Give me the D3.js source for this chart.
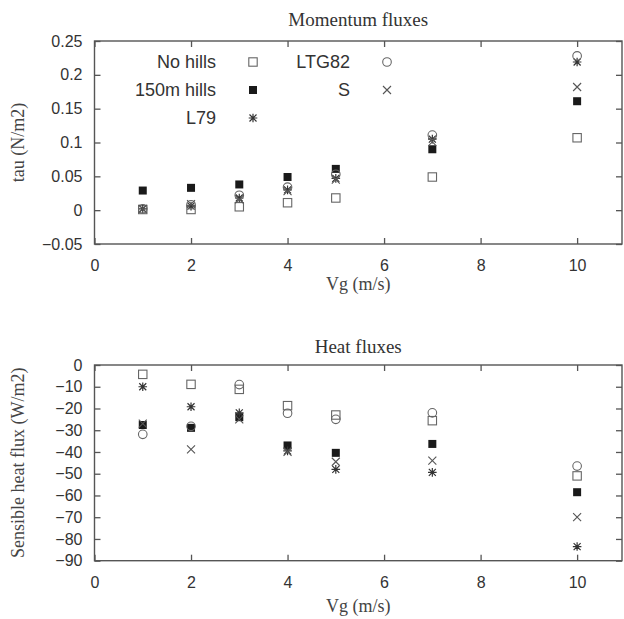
<!DOCTYPE html>
<html><head><meta charset="utf-8">
<script src="https://cdn.jsdelivr.net/npm/d3@7"></script>
<style>html,body{margin:0;padding:0;background:#fff;}svg{display:block;}</style>
</head><body>
<svg id="chart" width="624" height="619"></svg>
<script>
// ---- data ----
const vg = [1, 2, 3, 4, 5, 7, 10];
const seriesNames = ["No hills", "150m hills", "L79", "LTG82", "S"];
const seriesSymbols = ["openSquare", "filledSquare", "asterisk", "circle", "cross"];

const tauNoHills   = [0.001, 0.001, 0.005, 0.011, 0.018, 0.049, 0.107];
const tauHills     = [0.029, 0.033, 0.038, 0.049, 0.061, 0.090, 0.161];
const tauL79       = [0.002, 0.006, 0.018, 0.030, 0.047, 0.105, 0.219];
const tauLTG82     = [0.002, 0.008, 0.022, 0.034, 0.053, 0.111, 0.228];
const tauS         = [0.002, 0.009, 0.016, 0.028, 0.045, 0.101, 0.182];

const heatNoHills  = [-4.3, -8.9, -11.2, -18.7, -23.0, -25.6, -51.0];
const heatHills    = [-27.6, -28.9, -24.0, -37.0, -40.4, -36.3, -58.5];
const heatL79      = [-10.0, -19.2, -22.0, -39.5, -48.0, -49.4, -83.5];
const heatLTG82    = [-31.9, -28.2, -9.0, -22.2, -25.0, -22.0, -46.5];
const heatS        = [-27.0, -38.8, -25.0, -39.9, -44.5, -44.0, -70.0];

const xTicks = [0, 2, 4, 6, 8, 10];
const tauTicks = [-0.05, 0, 0.05, 0.1, 0.15, 0.2, 0.25];
const heatTicks = [-90, -80, -70, -60, -50, -40, -30, -20, -10, 0];

// ---- layout ----
const svg = d3.select("#chart");
const frameColor = "#555";
const textColor = "#333";

function drawSymbol(g, type, cx, cy) {
  const s = 4.2;
  if (type === "openSquare") {
    g.append("rect").attr("x", cx - s).attr("y", cy - s).attr("width", 2*s).attr("height", 2*s)
      .attr("fill", "none").attr("stroke", "#666").attr("stroke-width", 1.1);
  } else if (type === "filledSquare") {
    g.append("rect").attr("x", cx - 4).attr("y", cy - 4).attr("width", 8).attr("height", 8)
      .attr("fill", "#1a1a1a");
  } else if (type === "circle") {
    g.append("circle").attr("cx", cx).attr("cy", cy).attr("r", 4.3)
      .attr("fill", "none").attr("stroke", "#666").attr("stroke-width", 1.1);
  } else if (type === "cross") {
    const c = 4;
    g.append("path").attr("d", `M${cx-c},${cy-c}L${cx+c},${cy+c}M${cx-c},${cy+c}L${cx+c},${cy-c}`)
      .attr("stroke", "#555").attr("stroke-width", 1.1);
  } else if (type === "asterisk") {
    const c = 3.5, p = 4.3;
    g.append("path").attr("d", `M${cx-c},${cy-c}L${cx+c},${cy+c}M${cx-c},${cy+c}L${cx+c},${cy-c}M${cx-p},${cy}L${cx+p},${cy}M${cx},${cy-p}L${cx},${cy+p}`)
      .attr("stroke", "#333").attr("stroke-width", 1.2);
  }
}

function panel(opts) {
  const { top, bottom, yDomain, yTicks, yFmt, series, title, titleY, yLabel, xLabelY } = opts;
  const left = 94.5, right = 622;
  const x = d3.scaleLinear().domain([0, 10.93]).range([left, right]);
  const y = d3.scaleLinear().domain(yDomain).range([bottom, top]);
  const g = svg.append("g");

  // frame
  g.append("rect").attr("x", left).attr("y", top).attr("width", right - left).attr("height", bottom - top)
    .attr("fill", "none").attr("stroke", frameColor).attr("stroke-width", 1.4);

  // axes with inward ticks
  const tl = 6;
  const xb = g.append("g").attr("transform", `translate(0,${bottom})`)
    .call(d3.axisBottom(x).tickValues(xTicks).tickSize(-tl).tickPadding(tl + 10).tickFormat(d3.format("d")));
  const xt = g.append("g").attr("transform", `translate(0,${top})`)
    .call(d3.axisTop(x).tickValues(xTicks).tickSize(-tl).tickFormat(""));
  const yl = g.append("g").attr("transform", `translate(${left},0)`)
    .call(d3.axisLeft(y).tickValues(yTicks).tickSize(-tl).tickPadding(tl + 6).tickFormat(yFmt));
  const yr = g.append("g").attr("transform", `translate(${right},0)`)
    .call(d3.axisRight(y).tickValues(yTicks).tickSize(-tl).tickFormat(""));
  [xb, xt, yl, yr].forEach(a => {
    a.select(".domain").remove();
    a.selectAll(".tick line").attr("stroke", frameColor).attr("stroke-width", 1.3);
    a.selectAll(".tick text").attr("fill", textColor).attr("font-family", "'Liberation Sans', Arial, sans-serif").attr("font-size", 16);
  });

  // title and labels
  g.append("text").attr("x", (left + right) / 2).attr("y", titleY).attr("text-anchor", "middle")
    .attr("font-family", "'Liberation Serif', 'Times New Roman', serif").attr("font-size", 19).attr("fill", "#333").text(title);
  g.append("text").attr("x", (left + right) / 2).attr("y", xLabelY).attr("text-anchor", "middle")
    .attr("font-family", "'Liberation Serif', 'Times New Roman', serif").attr("font-size", 18).attr("fill", "#444").text("Vg (m/s)");
  g.append("text").attr("transform", `translate(24,${(top + bottom) / 2}) rotate(-90)`).attr("text-anchor", "middle")
    .attr("font-family", "'Liberation Serif', 'Times New Roman', serif").attr("font-size", 18).attr("fill", "#444").text(yLabel);

  // points
  const pg = g.append("g");
  series.forEach((vals, si) => {
    vals.forEach((v, i) => drawSymbol(pg, seriesSymbols[si], x(vg[i]), y(v)));
  });
  return g;
}

panel({
  top: 41, bottom: 244, yDomain: [-0.05, 0.25], yTicks: tauTicks,
  yFmt: d => d3.format("")(+d.toFixed(2)).replace("-", "\u2212"),
  series: [tauNoHills, tauHills, tauL79, tauLTG82, tauS],
  title: "Momentum fluxes", titleY: 26, yLabel: "tau (N/m2)", xLabelY: 290
});
panel({
  top: 365, bottom: 560.7, yDomain: [-90, 0], yTicks: heatTicks,
  yFmt: d => String(d).replace("-", "\u2212"),
  series: [heatNoHills, heatHills, heatL79, heatLTG82, heatS],
  title: "Heat fluxes", titleY: 353, yLabel: "Sensible heat flux (W/m2)", xLabelY: 612
});

// legend (top panel)
const lg = svg.append("g");
const legendCols = [
  { textX: 216, symX: 253, items: [0, 1, 2] },
  { textX: 350, symX: 387, items: [3, 4] }
];
const legendRowY = [62, 90, 118];
legendCols.forEach(col => {
  col.items.forEach((si, r) => {
    lg.append("text").attr("x", col.textX).attr("y", legendRowY[r]).attr("dy", "0.35em")
      .attr("text-anchor", "end").attr("font-family", "'Liberation Sans', Arial, sans-serif")
      .attr("font-size", 18).attr("fill", textColor).text(seriesNames[si]);
    drawSymbol(lg, seriesSymbols[si], col.symX, legendRowY[r]);
  });
});
</script>
</body></html>
